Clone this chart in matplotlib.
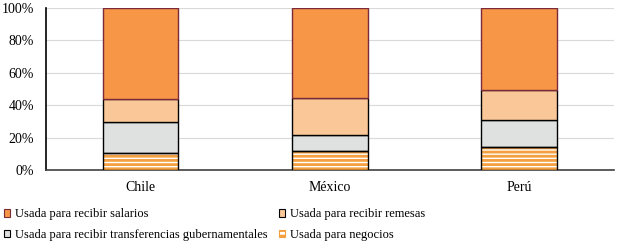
import matplotlib
matplotlib.use("Agg")
import matplotlib.pyplot as plt
from matplotlib.patches import Patch
from matplotlib.ticker import PercentFormatter

plt.rcParams['font.family'] = ['Liberation Serif', 'DejaVu Serif']

countries = ["Chile", "México", "Perú"]
negocios = [10.7, 11.9, 14.2]
transferencias = [18.9, 9.9, 16.5]
remesas = [14.4, 22.6, 18.5]
salarios = [56.0, 55.6, 50.8]

yticks = [0, 20, 40, 60, 80, 100]

c_sal = "#F79646"
c_rem = "#FAC898"
c_gov = "#DFE0E0"
c_neg = "#F4A040"
edge_sal = "#7B2A3A"

plt.rcParams['hatch.linewidth'] = 2.0

fig = plt.figure(figsize=(6.18, 2.43), dpi=100)
ax = fig.add_axes([0.0744, 0.3004, 0.919, 0.6666])

x = list(range(len(countries)))
w = 0.4

# negocios: striped
ax.bar(x, negocios, w, color="white", edgecolor=c_neg, hatch="----", linewidth=0, zorder=3)
ax.bar(x, negocios, w, fill=False, edgecolor="black", linewidth=1.0, zorder=4)
b1 = [n for n in negocios]
ax.bar(x, transferencias, w, bottom=b1, color=c_gov, edgecolor="black", linewidth=1.0, zorder=3)
b2 = [a + b for a, b in zip(b1, transferencias)]
ax.bar(x, remesas, w, bottom=b2, color=c_rem, edgecolor="black", linewidth=1.0, zorder=3)
b3 = [a + b for a, b in zip(b2, remesas)]
ax.bar(x, salarios, w, bottom=b3, color=c_sal, edgecolor=edge_sal, linewidth=1.0, zorder=3)

ax.set_xlim(-0.5, 2.5)
ax.set_ylim(0, 100)
ax.set_yticks(yticks)
ax.yaxis.set_major_formatter(PercentFormatter(decimals=0))
ax.set_xticks(x)
ax.set_xticklabels(countries)
ax.tick_params(axis='both', length=0, labelsize=10, colors="black")
ax.tick_params(axis='x', pad=8)
ax.tick_params(axis='y', pad=8.5)
ax.grid(axis='y', color="#D9D9D9", linewidth=0.8, zorder=0)
ax.set_axisbelow(True)
for s in ["top", "right"]:
    ax.spines[s].set_visible(False)
ax.spines["left"].set_color("black")
ax.spines["left"].set_linewidth(1.2)
ax.spines["bottom"].set_color("#404040")
ax.spines["bottom"].set_linewidth(1.2)

handles = [
    Patch(facecolor=c_sal, edgecolor=edge_sal, linewidth=0.8),
    Patch(facecolor=c_gov, edgecolor="black", linewidth=0.8),
    Patch(facecolor=c_rem, edgecolor="black", linewidth=0.8),
    Patch(facecolor="white", edgecolor=c_neg, hatch="---", linewidth=0.8),
]
labels = [
    "Usada para recibir salarios",
    "Usada para recibir transferencias gubernamentales",
    "Usada para recibir remesas",
    "Usada para negocios",
]
fig.legend(handles, labels, ncol=2, loc="upper left", bbox_to_anchor=(0.006, 0.142),
           frameon=False, fontsize=9, handlelength=0.5, handleheight=0.5,
           handletextpad=0.4, columnspacing=0.9, labelspacing=0.68,
           borderaxespad=0.0, borderpad=0.0)

fig.savefig("out.png", dpi=100)
